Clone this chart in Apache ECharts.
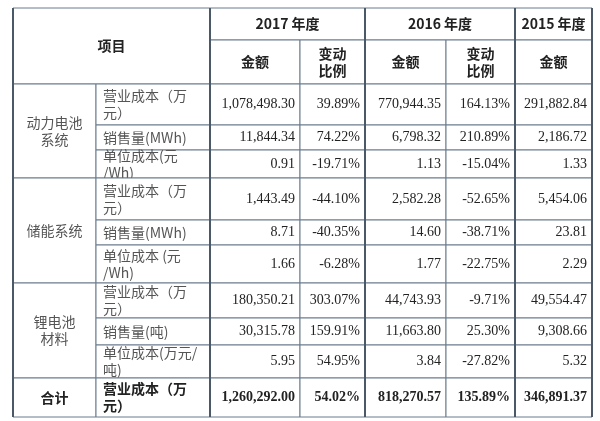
<!DOCTYPE html>
<html>
<head>
<meta charset="utf-8">
<script src="https://cdn.jsdelivr.net/npm/echarts@6/dist/echarts.min.js"></script>
<style>html,body{margin:0;padding:0;background:#fff}#chart{width:600px;height:421px}</style>
</head>
<body>
<div id="chart"></div>
<script>
// table content
let years = ['2017 年度', '2016 年度', '2015 年度'];
let groups = ['动力电池\n系统', '储能系统', '锂电池\n材料'];
let items = [
    '营业成本（万\n元）', '销售量(MWh)', '单位成本(元\n/Wh)',
    '营业成本（万\n元）', '销售量(MWh)', '单位成本 (元\n/Wh)',
    '营业成本（万\n元）', '销售量(吨)', '单位成本(万元/\n吨)'
];
let amount2017 = ['1,078,498.30', '11,844.34', '0.91', '1,443.49', '8.71', '1.66', '180,350.21', '30,315.78', '5.95'];
let change2017 = ['39.89%', '74.22%', '-19.71%', '-44.10%', '-40.35%', '-6.28%', '303.07%', '159.91%', '54.95%'];
let amount2016 = ['770,944.35', '6,798.32', '1.13', '2,582.28', '14.60', '1.77', '44,743.93', '11,663.80', '3.84'];
let change2016 = ['164.13%', '210.89%', '-15.04%', '-52.65%', '-38.71%', '-22.75%', '-9.71%', '25.30%', '-27.82%'];
let amount2015 = ['291,882.84', '2,186.72', '1.33', '5,454.06', '23.81', '2.29', '49,554.47', '9,308.66', '5.32'];
let totalRow = ['合计', '营业成本（万\n元）', '1,260,292.00', '54.02%', '818,270.57', '135.89%', '346,891.37'];

// layout (pixels)
let colEdges = [13, 96, 210, 300, 365, 446, 515, 592];
let rowEdges = [8, 40, 84, 125, 150, 178, 220, 245, 283, 318, 345, 378, 417];

let cells = [];
function cell(c0, c1, r0, r1, text, align, bold, kind) {
    cells.push({ c0, c1, r0, r1, text, align, bold, kind });
}
cell(0, 2, 0, 2, '项目', 'center', true, 'cn');
years.forEach((y, i) => {
    let c0 = [2, 4, 6][i], c1 = [4, 6, 7][i];
    cell(c0, c1, 0, 1, y, 'center', true, 'cn');
});
['金额', '变动\n比例', '金额', '变动\n比例', '金额'].forEach((t, i) => cell(2 + i, 3 + i, 1, 2, t, 'center', true, 'cn'));
groups.forEach((g, i) => cell(0, 1, 2 + i * 3, 5 + i * 3, g, 'center', false, 'lbl'));
let cols = [amount2017, change2017, amount2016, change2016, amount2015];
items.forEach((t, r) => {
    cell(1, 2, 2 + r, 3 + r, t, 'left', false, 'lbl');
    cols.forEach((arr, c) => cell(2 + c, 3 + c, 2 + r, 3 + r, arr[r], 'right', false, 'num'));
});
totalRow.forEach((t, c) => cell(c, c + 1, 11, 12, t, c === 0 ? 'center' : (c === 1 ? 'left' : 'right'), true, c < 2 ? 'cn' : 'num'));

let chart = echarts.init(document.getElementById('chart'));
chart.setOption({
    animation: false,
    grid: { left: 0, right: 0, top: 0, bottom: 0 },
    xAxis: { type: 'value', min: 0, max: 600, show: false },
    yAxis: { type: 'value', min: 0, max: 421, inverse: true, show: false },
    series: [{
        type: 'custom',
        data: cells.map((c, i) => [i]),
        renderItem: function(params, api) {
            let c = cells[api.value(0)];
            let p0 = api.coord([colEdges[c.c0], rowEdges[c.r0]]);
            let p1 = api.coord([colEdges[c.c1], rowEdges[c.r1]]);
            let w = p1[0] - p0[0], h = p1[1] - p0[1];
            let tx = c.align === 'left' ? p0[0] + 7 : (c.align === 'right' ? p1[0] - 5 : p0[0] + w / 2);
            let font = c.kind === 'num' ? '"Liberation Serif", serif' : '"Noto Sans CJK SC", sans-serif';
            return {
                type: 'group',
                children: [{
                    type: 'rect',
                    shape: { x: p0[0], y: p0[1], width: w, height: h },
                    style: { fill: '#fff', stroke: '#6b7a8c', lineWidth: 1 }
                }, {
                    type: 'text',
                    style: {
                        x: tx, y: p0[1] + h / 2,
                        text: c.text,
                        align: c.align, verticalAlign: 'middle',
                        fontFamily: font,
                        fontSize: c.kind === 'num' ? 14 : 14,
                        fontWeight: c.bold ? 'bold' : 'normal',
                        lineHeight: 17,
                        fill: c.kind === 'lbl' ? '#555' : '#222'
                    }
                }]
            };
        }
    }, {
        // heavier separators between year blocks and outer frame
        type: 'custom',
        data: [[0], [2], [4], [6], [7]],
        renderItem: function(params, api) {
            let x = colEdges[api.value(0)];
            let a = api.coord([x, rowEdges[0]]), b = api.coord([x, rowEdges[12]]);
            return { type: 'line', shape: { x1: a[0], y1: a[1], x2: b[0], y2: b[1] }, style: { stroke: '#4a5868', lineWidth: 2 } };
        }
    }]
});
</script>
</body>
</html>
